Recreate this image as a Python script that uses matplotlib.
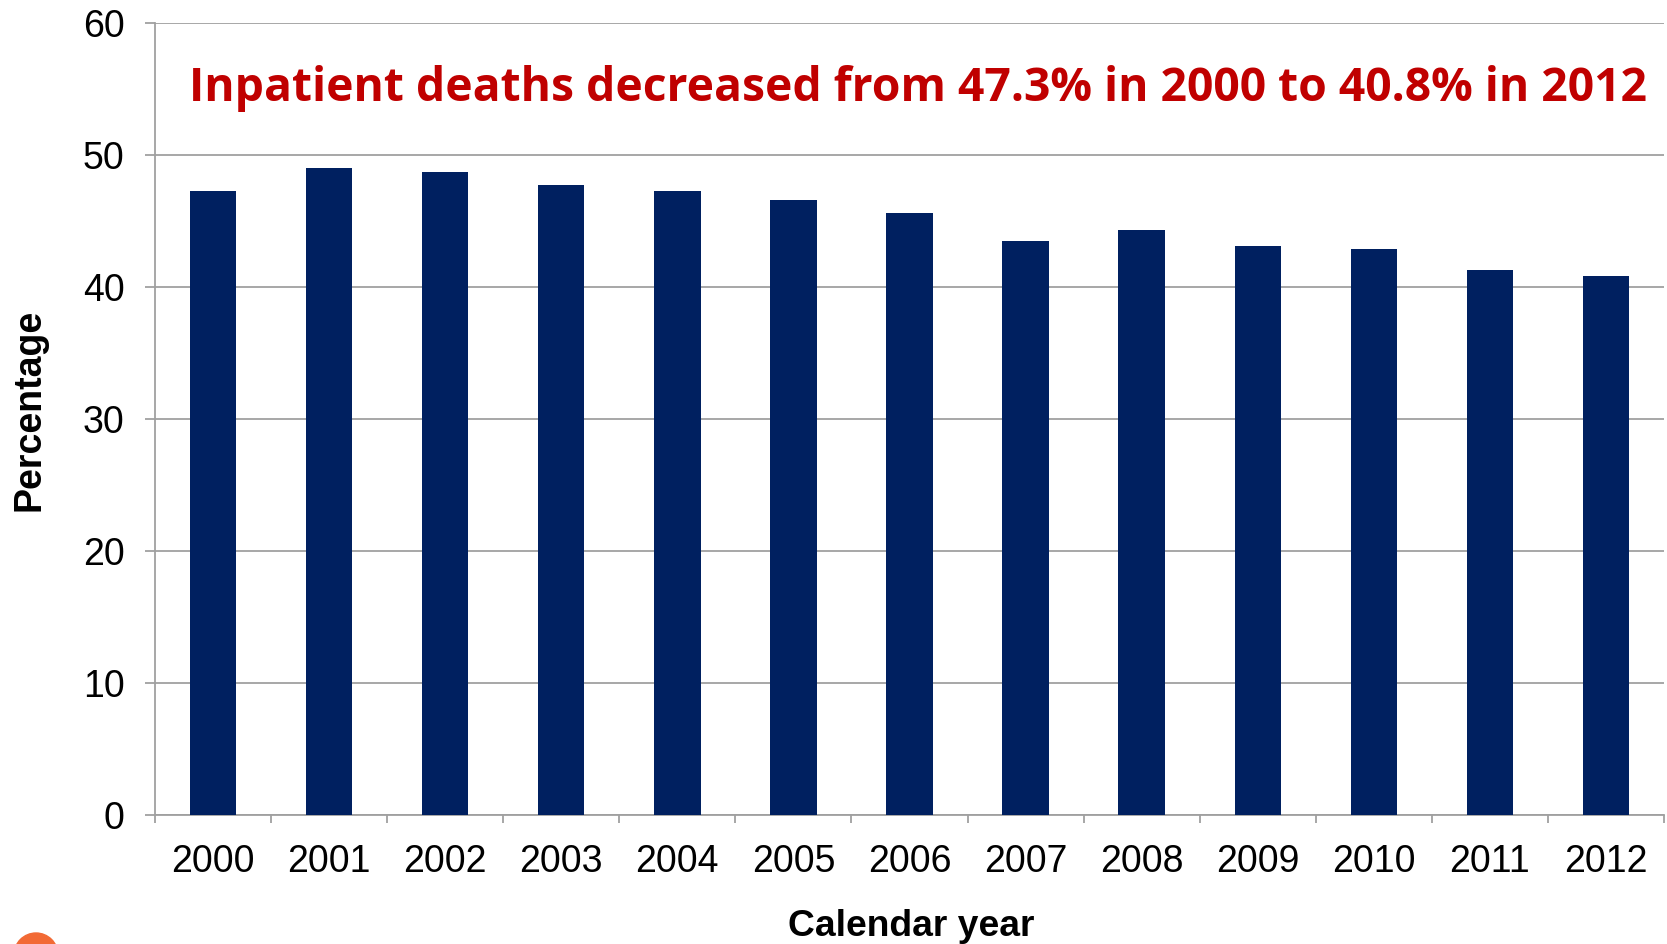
## Inpatient deaths by calendar year
import numpy as np
import matplotlib.pyplot as plt
from matplotlib.patches import Circle

years = ["2000", "2001", "2002", "2003", "2004", "2005", "2006",
         "2007", "2008", "2009", "2010", "2011", "2012"]
pct = [47.3, 49.0, 48.7, 47.7, 47.3, 46.6, 45.6, 43.5, 44.3, 43.1, 42.9, 41.3, 40.8]
yticks = [0, 10, 20, 30, 40, 50, 60]
note = "Inpatient deaths decreased from 47.3% in 2000 to 40.8% in 2012"

plt.rcParams['font.family'] = ['Liberation Sans', 'DejaVu Sans']
grey = "#A0A0A0"

fig = plt.figure(figsize=(16.67, 9.44), dpi=100)
ax = fig.add_axes([155 / 1667, 1 - 815 / 944, (1664 - 155) / 1667, (815 - 23) / 944])

x = np.arange(len(years))
ax.bar(x, pct, width=0.4, color="#002060", zorder=3)

ax.set_xlim(-0.5, len(years) - 0.5)
ax.set_ylim(0, 60)
ax.set_yticks(yticks)
ax.yaxis.grid(True, color=grey, linewidth=1.3, zorder=0)

ax.set_xticks(x)
ax.set_xticklabels(years)
ax.set_xticks(np.arange(len(years) + 1) - 0.5, minor=True)
ax.tick_params(axis="x", which="major", length=0, pad=21, labelsize=27)
ax.tick_params(axis="x", which="minor", length=6, width=1.3, color=grey, direction="out")
ax.tick_params(axis="y", length=7, width=1.3, color=grey, pad=15, labelsize=27)

for s in ["top", "right"]:
    ax.spines[s].set_visible(False)
for s in ["left", "bottom"]:
    ax.spines[s].set_color(grey)
    ax.spines[s].set_linewidth(1.3)

fig.text(911 / 1667, 1 - 926 / 944, "Calendar year", ha="center", va="center",
         fontsize=26.8, fontweight="bold")
fig.text(29 / 1667, 1 - 410 / 944, "Percentage", ha="center", va="center",
         rotation=90, fontsize=27, fontweight="bold")

fig.text(918 / 1667, 1 - 89 / 944, note, ha="center", va="center",
         fontsize=33.3, fontweight="bold", color="#C00000",
         family=["Open Sans", "DejaVu Sans"])

# orange dot in the bottom-left corner
fig.patches.append(Circle((0.36, -0.11), 0.22, transform=fig.dpi_scale_trans,
                          color="#F26A35", zorder=5))

plt.savefig("out.png", dpi=100)
